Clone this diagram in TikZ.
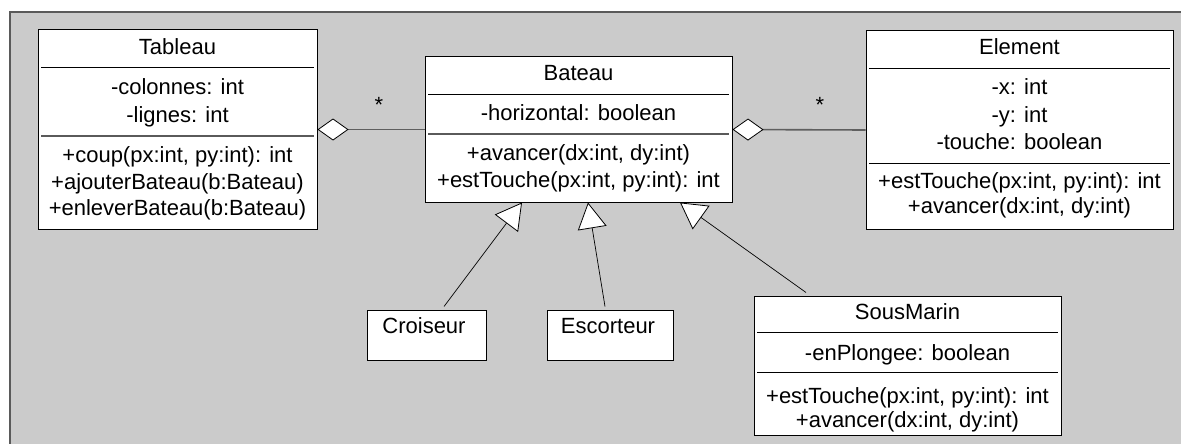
\documentclass[tikz,border=0pt]{standalone}
\usepackage{fontspec}
\setmainfont{Liberation Sans}
\usetikzlibrary{arrows.meta}
\definecolor{bggray}{HTML}{CBCBCB}
\definecolor{framegray}{HTML}{5A5A5A}
\definecolor{assocgray}{HTML}{5F5F5F}
\begin{document}
\begin{tikzpicture}[x=1pt,y=-1pt,
  cls/.style={draw=black,line width=1pt,fill=white,inner sep=0pt,anchor=center},
  txt/.style={anchor=base,inner sep=0pt,font=\fontsize{22}{26}\selectfont},
  sepline/.style={line width=1pt,draw=black},
  sepgray/.style={line width=1.3pt,draw=framegray},
  assocline/.style={line width=1.6pt,draw=assocgray,{Diamond[length=31pt,width=22pt,color=black,fill=white,line width=0.8pt]}-},
  genline/.style={line width=0.7pt,draw=black,-{Triangle[length=26pt,width=29pt,fill=white,line width=0.8pt]}},
]
\useasboundingbox (0,0) rectangle (1181,444);
\fill[white] (0,0) rectangle (1181,444);
\fill[bggray] (10,12) rectangle (1181,444);
\draw[framegray,line width=2pt] (10,444) -- (10,12) -- (1181,12);

% Tableau
\node[cls,minimum width=279pt,minimum height=199pt] (tab) at (177.5,129.5) {};
\node[txt] (tab1) at (177.5,55) {Tableau};
\node[txt] (tab2) at (177.5,94) {-colonnes: int};
\node[txt] (tab3) at (177.5,122) {-lignes: int};
\node[txt] (tab4) at (177.5,162) {+coup(px:int, py:int): int};
\node[txt] (tab5) at (177.5,189) {+ajouterBateau(b:Bateau)};
\node[txt] (tab6) at (177.5,215) {+enleverBateau(b:Bateau)};
\draw[sepline] (41,68) -- (314,68);
\draw[sepgray] (41,136) -- (314,136);

% Bateau
\node[cls,minimum width=307pt,minimum height=145pt] (bat) at (578.5,129.5) {};
\node[txt] (bat1) at (578.5,81) {Bateau};
\node[txt] (bat2) at (578.5,120) {-horizontal: boolean};
\node[txt] (bat3) at (578.5,160) {+avancer(dx:int, dy:int)};
\node[txt] (bat4) at (578.5,187) {+estTouche(px:int, py:int): int};
\draw[sepline] (428,94) -- (729,94);
\draw[sepgray] (428,134) -- (729,134);

% Element
\node[cls,minimum width=307pt,minimum height=198pt] (ele) at (1019.5,130) {};
\node[txt] (ele1) at (1019.5,55) {Element};
\node[txt] (ele2) at (1019.5,95) {-x: int};
\node[txt] (ele3) at (1019.5,122) {-y: int};
\node[txt] (ele4) at (1019.5,149) {-touche: boolean};
\node[txt] (ele5) at (1019.5,188) {+estTouche(px:int, py:int): int};
\node[txt] (ele6) at (1019.5,213) {+avancer(dx:int, dy:int)};
\draw[sepline] (869,69) -- (1170,69);
\draw[sepline] (869,163) -- (1170,163);

% Croiseur
\node[cls,minimum width=119pt,minimum height=50pt] (cro) at (426.5,335) {};
\node[txt] (cro1) at (424,333) {Croiseur};

% Escorteur
\node[cls,minimum width=126pt,minimum height=50pt] (esc) at (610,335) {};
\node[txt] (esc1) at (608,333) {Escorteur};

% SousMarin
\node[cls,minimum width=307pt,minimum height=139pt] (sm) at (907.5,365.5) {};
\node[txt] (sm1) at (907.5,319) {SousMarin};
\node[txt] (sm2) at (907.5,360) {-enPlongee: boolean};
\node[txt] (sm3) at (907.5,403) {+estTouche(px:int, py:int): int};
\node[txt] (sm4) at (907.5,427) {+avancer(dx:int, dy:int)};
\draw[sepline] (757,332) -- (1058,332);
\draw[sepline] (757,372) -- (1058,372);

% associations
\draw[assocline] (tab.east) -- (bat.west);
\draw[assocline] (bat.east) -- (ele.west);
\node[txt] (m1) at (379,113) {*};
\node[txt] (m2) at (820,113) {*};

% generalizations
\draw[genline] ([xshift=17.5pt,yshift=3pt]cro.north) -- ([xshift=-56.5pt]bat.south);
\draw[genline] ([xshift=-5pt,yshift=3pt]esc.north) -- ([xshift=9.5pt]bat.south);
\draw[genline] ([xshift=-101.5pt,yshift=3pt]sm.north) -- ([xshift=101.5pt]bat.south);
\end{tikzpicture}
\end{document}
